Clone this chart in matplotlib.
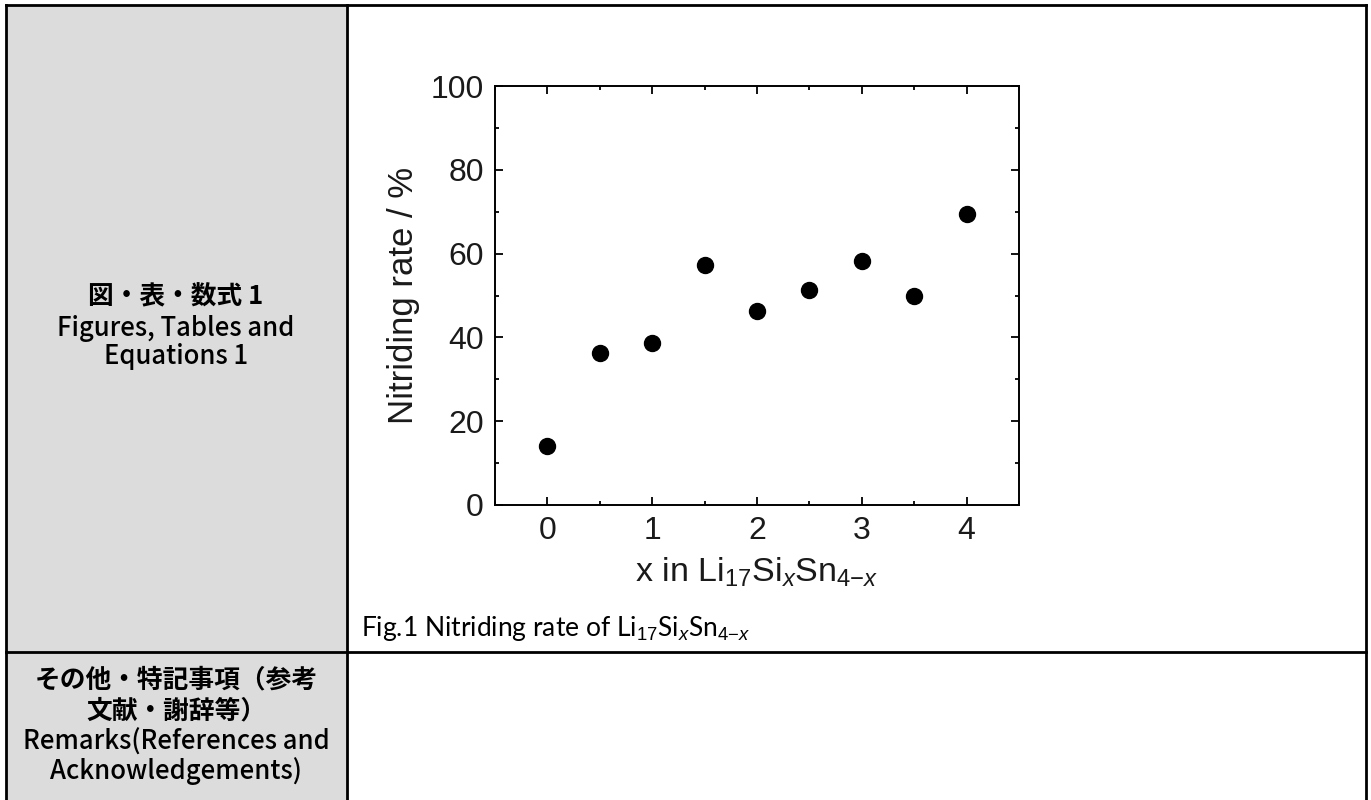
import matplotlib
matplotlib.use("Agg")
import matplotlib.pyplot as plt
from matplotlib.patches import Rectangle
from matplotlib.ticker import MultipleLocator

plt.rcParams['font.family'] = ['Liberation Sans', 'DejaVu Sans']
plt.rcParams['mathtext.fontset'] = 'custom'
plt.rcParams['mathtext.rm'] = 'Liberation Sans'
plt.rcParams['mathtext.it'] = 'Liberation Sans:italic'

# data
x_values = [0, 0.5, 1, 1.5, 2, 2.5, 3, 3.5, 4]
nitriding_rate = [14.1, 36.3, 38.7, 57.3, 46.3, 51.3, 58.2, 49.9, 69.5]
x_ticks = [0, 1, 2, 3, 4]
y_ticks = [0, 20, 40, 60, 80, 100]

left_top_lines = ['図・表・数式 1', 'Figures, Tables and', 'Equations 1']
left_bottom_lines = ['その他・特記事項（参考', '文献・謝辞等）',
                     'Remarks(References and', 'Acknowledgements)']
caption = r'Fig.1 Nitriding rate of Li$_{17}$Si$_{x}$Sn$_{4\mathrm{-}x}$'

W, H = 1371, 800
fig = plt.figure(figsize=(W / 100, H / 100), dpi=100)

# background table drawn in pixel coordinates
bg = fig.add_axes([0, 0, 1, 1], zorder=-1)
bg.set_xlim(0, W)
bg.set_ylim(H, 0)
bg.axis('off')
bg.add_patch(Rectangle((6, 5), 341, 800, facecolor='#dcdcdc', edgecolor='none'))
lw = 2.0
row_line = 652
bg.plot([6, 1366], [5, 5], color='black', lw=lw)
bg.plot([6, 1366], [row_line, row_line], color='black', lw=lw)
bg.plot([6, 6], [5, 800], color='black', lw=lw)
bg.plot([347, 347], [5, 800], color='black', lw=lw)
bg.plot([1366, 1366], [5, 800], color='black', lw=lw)

jp_font = ['Noto Sans CJK JP', 'DejaVu Sans']
for line, y in zip(left_top_lines, [297, 328, 357]):
    bold = 'bold' if not line[0].isascii() else 'medium'
    bg.text(176, y, line, ha='center', va='center', fontsize=18.5,
            family=jp_font, weight=bold)
for line, y in zip(left_bottom_lines, [680, 711, 742, 771]):
    bold = 'bold' if not line[0].isascii() else 'medium'
    bg.text(176, y, line, ha='center', va='center', fontsize=18.5,
            family=jp_font, weight=bold)

bg.text(361, 636, caption, ha='left', va='baseline', fontsize=19, family=['Lato', 'DejaVu Sans'])

# the scatter plot
ax = fig.add_axes([495 / W, 1 - 505 / H, (1019 - 495) / W, (505 - 86) / H])
ax.plot(x_values, nitriding_rate, 'o', color='black', markersize=11.5)
ax.set_xlim(-0.5, 4.5)
ax.set_ylim(0, 100)
ax.set_xticks(x_ticks)
ax.set_yticks(y_ticks)
ax.xaxis.set_minor_locator(MultipleLocator(0.5))
ax.yaxis.set_minor_locator(MultipleLocator(10))
ax.tick_params(which='both', direction='in', top=True, right=True, width=1.3,
               labelsize=23, labelcolor='#1a1a1a')
ax.tick_params(which='major', length=6, pad=8)
ax.tick_params(which='minor', length=3)
for s in ax.spines.values():
    s.set_linewidth(1.4)
ax.set_xlabel(r'x in Li$_{17}$Si$_{\mathit{x}}$Sn$_{4\mathrm{-}\mathit{x}}$', fontsize=24.5,
              labelpad=7, color='#1a1a1a')
ax.set_ylabel('Nitriding rate / %', fontsize=25, labelpad=8, color='#1a1a1a')

fig.savefig('out.png', dpi=100)
